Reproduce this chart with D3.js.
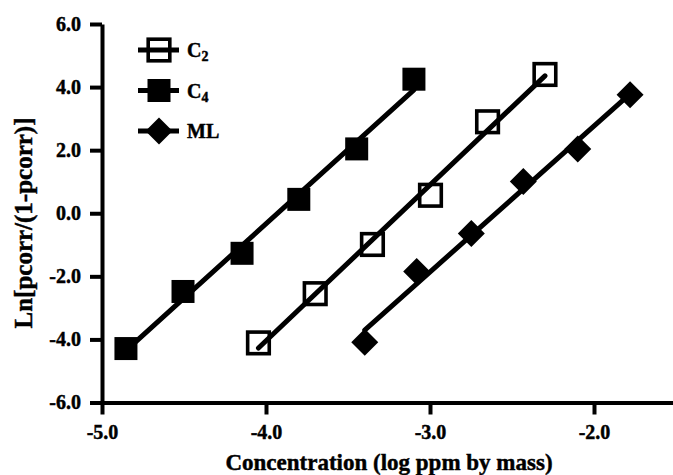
<!DOCTYPE html>
<html>
<head>
<meta charset="utf-8">
<script src="https://cdn.jsdelivr.net/npm/d3@7"></script>
<style>
  body { margin: 0; background: #fff; }
  text { font-family: "Liberation Serif", "Times New Roman", serif; font-weight: bold; fill: #000; stroke: #000; stroke-width: 0.45px; }
</style>
</head>
<body>
<div class="chart"></div>
<script>
// values
var c2X = [-4.046, -3.70, -3.351, -2.997, -2.649, -2.299];
var c2Y = [-4.11, -2.55, -0.99, 0.57, 2.90, 4.40];
var c4X = [-4.854, -4.506, -4.146, -3.80, -3.447, -3.098];
var c4Y = [-4.29, -2.48, -1.27, 0.44, 2.04, 4.25];
var mlX = [-3.398, -3.081, -2.748, -2.431, -2.099, -1.78];
var mlY = [-4.09, -1.85, -0.645, 1.01, 2.04, 3.76];
var xTicks = [-5, -4, -3, -2];
var yTicks = [-6, -4, -2, 0, 2, 4, 6];
var seriesNames = ["C", "C", "ML"];
var seriesSubs = ["2", "4", ""];

var width = 673, height = 475;

var x = d3.scaleLinear().domain([-5, -1.5]).range([102, 676]);
var y = d3.scaleLinear().domain([-6, 6]).range([402.5, 24]);

var svg = d3.select(".chart").append("svg")
    .attr("width", width)
    .attr("height", height);

// least squares fit, drawn between the first and last x
function fit(xs, ys) {
    var mx = d3.mean(xs), my = d3.mean(ys);
    var sxy = d3.sum(xs, function (d, i) { return (d - mx) * (ys[i] - my); });
    var sxx = d3.sum(xs, function (d) { return (d - mx) * (d - mx); });
    var b = sxy / sxx, a = my - b * mx;
    var ext = d3.extent(xs);
    return ext.map(function (v) { return [v, a + b * v]; });
}

var series = [
    { xs: c2X, ys: c2Y, shape: "open" },
    { xs: c4X, ys: c4Y, shape: "square" },
    { xs: mlX, ys: mlY, shape: "diamond" }
];

function drawMarker(g, shape) {
    if (shape === "open") {
        g.append("rect").attr("x", -10.8).attr("y", -10.8)
            .attr("width", 21.6).attr("height", 21.6)
            .attr("fill", "none").attr("stroke", "#000").attr("stroke-width", 3.6);
    } else if (shape === "square") {
        g.append("rect").attr("x", -11.5).attr("y", -11.5)
            .attr("width", 23).attr("height", 23).attr("fill", "#000");
    } else {
        g.append("path").attr("d", "M0,-13.5L13.5,0L0,13.5L-13.5,0Z").attr("fill", "#000");
    }
}

// axes
var xAxis = d3.axisBottom(x).tickValues(xTicks).tickSize(12).tickSizeOuter(0).tickPadding(10)
    .tickFormat(function (d) { return d.toFixed(1); });
var yAxis = d3.axisLeft(y).tickValues(yTicks).tickSize(12).tickSizeOuter(0).tickPadding(9)
    .tickFormat(function (d) { return d.toFixed(1); });

var gx = svg.append("g")
    .attr("transform", "translate(0," + y(-6) + ")")
    .call(xAxis);
var gy = svg.append("g")
    .attr("transform", "translate(" + x(-5) + ",0)")
    .call(yAxis);

[gx, gy].forEach(function (g) {
    g.attr("font-family", null).attr("font-size", null);
    g.select(".domain").attr("stroke-width", 4);
    g.selectAll(".tick line").attr("stroke-width", 4);
    g.selectAll(".tick text").style("font-size", "20px");
});

// fit lines
var line = d3.line()
    .x(function (d) { return x(d[0]); })
    .y(function (d) { return y(d[1]); });

series.forEach(function (s) {
    svg.append("path")
        .datum(fit(s.xs, s.ys))
        .attr("d", line)
        .attr("fill", "none")
        .attr("stroke", "#000")
        .attr("stroke-width", 5)
        .attr("stroke-linecap", "round");
});

// points
series.forEach(function (s) {
    svg.append("g").selectAll("g")
        .data(s.xs.map(function (v, i) { return [v, s.ys[i]]; }))
        .enter().append("g")
        .attr("transform", function (d) { return "translate(" + x(d[0]) + "," + y(d[1]) + ")"; })
        .each(function () { drawMarker(d3.select(this), s.shape); });
});

// legend
var legend = svg.append("g");
series.forEach(function (s, i) {
    var ly = 50 + i * 40.5;
    var row = legend.append("g").attr("transform", "translate(159," + ly + ")");
    row.append("line").attr("x1", -21).attr("x2", 20)
        .attr("stroke", "#000").attr("stroke-width", 5);
    drawMarker(row, s.shape);
    var t = row.append("text").attr("x", 28).attr("y", 7).style("font-size", "20px")
        .text(seriesNames[i]);
    if (seriesSubs[i]) {
        t.append("tspan").attr("dy", 4).style("font-size", "14px").text(seriesSubs[i]);
    }
});

// axis titles
svg.append("text")
    .attr("x", 389).attr("y", 470)
    .attr("text-anchor", "middle")
    .style("font-size", "23px")
    .text("Concentration (log ppm by mass)");

svg.append("text")
    .attr("transform", "translate(32,223) rotate(-90)")
    .attr("text-anchor", "middle")
    .style("font-size", "25px")
    .text("Ln[pcorr/(1-pcorr)]");
</script>
</body>
</html>
